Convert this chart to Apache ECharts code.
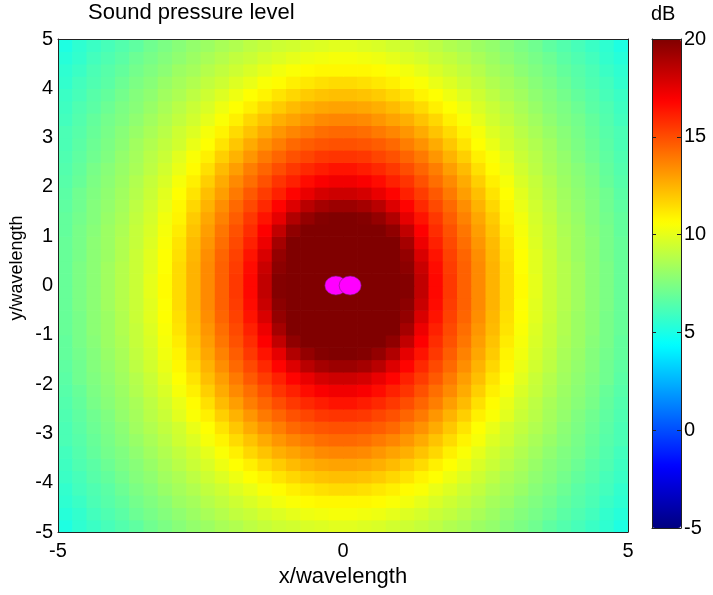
<!DOCTYPE html>
<html>
<head>
<meta charset="utf-8">
<title>Sound pressure level</title>
<script src="https://cdn.jsdelivr.net/npm/echarts@6/dist/echarts.min.js"></script>
<style>
  html, body { margin: 0; padding: 0; background: #fff; }
  #chart { width: 713px; height: 595px; }
</style>
</head>
<body>
<div id="chart"></div>
<script>
// cell centres (wavelengths) for one quadrant, from the axis outwards
const quadCenters = [0.125, 0.375, 0.625, 0.875, 1.125, 1.375, 1.625, 1.875, 2.125, 2.375,
  2.625, 2.875, 3.125, 3.375, 3.625, 3.875, 4.125, 4.375, 4.625, 4.875];
const cellHalf = 0.125;

// SPL (dB) for the quadrant x>0, y>0.
// rows go outwards in |y|, columns outwards in |x|; the field is symmetric
const splQuadrant = [
  [20, 20, 20, 20, 19.9, 18.4, 16.7, 15.5, 14.5, 13.5, 12.5, 11.5, 10.7, 10.0, 9.3, 8.8, 8.3, 7.8, 7.4, 6.9],
  [20, 20, 20, 20, 19.7, 18.2, 16.6, 15.4, 14.5, 13.5, 12.5, 11.5, 10.6, 9.9, 9.3, 8.8, 8.3, 7.8, 7.4, 6.9],
  [20, 20, 20, 20, 19.5, 17.8, 16.4, 15.3, 14.4, 13.4, 12.4, 11.4, 10.6, 9.9, 9.3, 8.7, 8.2, 7.8, 7.3, 6.9],
  [20, 20, 20, 20, 19.1, 17.3, 16.1, 15.1, 14.2, 13.2, 12.3, 11.3, 10.5, 9.8, 9.2, 8.7, 8.2, 7.8, 7.3, 6.9],
  [20, 20, 20, 19.6, 18.4, 16.9, 15.8, 14.9, 14.0, 13.0, 12.1, 11.1, 10.4, 9.7, 9.2, 8.6, 8.2, 7.7, 7.3, 6.8],
  [20, 19.9, 19.5, 18.8, 17.5, 16.4, 15.5, 14.6, 13.7, 12.8, 11.9, 10.9, 10.3, 9.6, 9.1, 8.5, 8.1, 7.6, 7.2, 6.8],
  [19.3, 19.1, 18.6, 17.7, 16.8, 15.9, 15.1, 14.3, 13.4, 12.5, 11.6, 10.8, 10.1, 9.5, 9.0, 8.4, 8.0, 7.6, 7.1, 6.7],
  [18.1, 17.9, 17.4, 16.8, 16.1, 15.4, 14.7, 13.9, 13.0, 12.2, 11.3, 10.6, 9.9, 9.3, 8.8, 8.3, 7.9, 7.5, 7.1, 6.6],
  [17.2, 17.0, 16.6, 16.1, 15.6, 14.9, 14.2, 13.5, 12.7, 11.8, 11.0, 10.4, 9.7, 9.2, 8.7, 8.2, 7.8, 7.4, 6.9, 6.5],
  [16.4, 16.2, 15.9, 15.5, 15.0, 14.4, 13.8, 13.0, 12.3, 11.4, 10.7, 10.1, 9.5, 9.0, 8.5, 8.1, 7.7, 7.3, 6.8, 6.4],
  [15.6, 15.5, 15.2, 14.9, 14.4, 13.9, 13.2, 12.5, 11.8, 11.0, 10.5, 9.9, 9.3, 8.9, 8.4, 8.0, 7.5, 7.1, 6.7, 6.3],
  [14.9, 14.8, 14.6, 14.3, 13.8, 13.3, 12.7, 12.0, 11.3, 10.6, 10.1, 9.5, 9.1, 8.7, 8.3, 7.8, 7.4, 7.0, 6.6, 6.2],
  [14.3, 14.2, 13.9, 13.6, 13.2, 12.7, 12.1, 11.5, 10.9, 10.4, 9.8, 9.4, 8.9, 8.5, 8.1, 7.7, 7.3, 6.9, 6.5, 6.2],
  [13.6, 13.5, 13.2, 12.9, 12.6, 12.1, 11.6, 11.0, 10.5, 10.0, 9.5, 9.1, 8.7, 8.3, 7.9, 7.5, 7.2, 6.8, 6.4, 6.0],
  [12.9, 12.8, 12.6, 12.3, 11.9, 11.5, 11.0, 10.6, 10.2, 9.7, 9.3, 8.9, 8.5, 8.1, 7.7, 7.4, 7.0, 6.6, 6.3, 5.9],
  [12.2, 12.1, 11.9, 11.6, 11.3, 10.9, 10.6, 10.2, 9.8, 9.4, 9.0, 8.6, 8.3, 7.9, 7.6, 7.2, 6.8, 6.5, 6.1, 5.8],
  [11.5, 11.4, 11.2, 11.0, 10.7, 10.5, 10.1, 9.8, 9.4, 9.1, 8.7, 8.4, 8.1, 7.7, 7.4, 7.0, 6.6, 6.3, 6.0, 5.6],
  [10.8, 10.8, 10.7, 10.5, 10.3, 10.0, 9.7, 9.4, 9.1, 8.8, 8.4, 8.2, 7.8, 7.5, 7.2, 6.8, 6.5, 6.2, 5.8, 5.5],
  [10.4, 10.3, 10.2, 10.0, 9.8, 9.6, 9.3, 9.1, 8.8, 8.5, 8.2, 7.9, 7.6, 7.3, 7.0, 6.6, 6.3, 6.0, 5.6, 5.3],
  [9.9, 9.8, 9.7, 9.5, 9.4, 9.2, 9.0, 8.7, 8.5, 8.2, 8.0, 7.7, 7.4, 7.1, 6.7, 6.4, 6.1, 5.8, 5.5, 5.1]
];

// the two point sources
const sourceX = [-0.125, 0.125];
const sourceY = [0, 0];

const jetColors = ['#000080', '#0000ff', '#0080ff', '#00ffff', '#80ff80',
  '#ffff00', '#ff8000', '#ff0000', '#800000'];

// mirror the quadrant into the full field
const n = quadCenters.length;
const centers = quadCenters.slice().reverse().map((c) => -c).concat(quadCenters);
const fold = (k) => (k < n ? n - 1 - k : k - n);
const fieldData = [];
for (let yi = 0; yi < 2 * n; yi++) {
  for (let xi = 0; xi < 2 * n; xi++) {
    fieldData.push([centers[xi], centers[yi], splQuadrant[fold(yi)][fold(xi)]]);
  }
}

// one cell per data item, slightly padded so no seams show
function renderCell(params, api) {
  const x = api.value(0);
  const y = api.value(1);
  const p0 = api.coord([x - cellHalf, y + cellHalf]);
  const p1 = api.coord([x + cellHalf, y - cellHalf]);
  return {
    type: 'rect',
    shape: { x: p0[0], y: p0[1], width: p1[0] - p0[0] + 0.7, height: p1[1] - p0[1] + 0.7 },
    style: { fill: api.visual('color') }
  };
}

const font = "'Liberation Sans', Arial, sans-serif";
const chart = echarts.init(document.getElementById('chart'), null, { renderer: 'canvas' });

const frameLine = { show: true, onZero: false, lineStyle: { color: '#222', width: 1 } };
const frameOnly = {
  axisLine: frameLine, axisTick: { show: false }, axisLabel: { show: false }, splitLine: { show: false }
};

const option = {
  animation: false,
  backgroundColor: '#fff',
  textStyle: { fontFamily: font, color: '#000' },
  title: [
    {
      text: 'Sound pressure level',
      left: 88, top: 2, padding: 0,
      textStyle: { fontSize: 22, fontWeight: 'normal', color: '#000', fontFamily: font }
    },
    {
      text: 'dB',
      left: 651, top: 4, padding: 0,
      textStyle: { fontSize: 20, fontWeight: 'normal', color: '#000', fontFamily: font }
    }
  ],
  grid: [
    { left: 58, top: 39, width: 570, height: 493 },
    { left: 652, top: 39, width: 29, height: 489 }
  ],
  visualMap: {
    type: 'continuous',
    seriesIndex: 0,
    dimension: 2,
    min: -5,
    max: 20,
    calculable: false,
    orient: 'vertical',
    left: 652,
    top: 39,
    padding: 0,
    itemWidth: 29,
    itemHeight: 489,
    text: null,
    inRange: { color: jetColors }
  },
  xAxis: [
    Object.assign({ type: 'value', gridIndex: 0, position: 'top', min: -5, max: 5, z: 10 }, frameOnly),
    {
      type: 'value', gridIndex: 0, position: 'bottom', min: -5, max: 5, interval: 5, z: 10,
      axisLine: frameLine, axisTick: { show: false }, splitLine: { show: false },
      axisLabel: { fontSize: 20, color: '#000', margin: 9, fontFamily: font },
      name: 'x/wavelength', nameLocation: 'middle', nameGap: 32,
      nameTextStyle: { fontSize: 22, color: '#000', fontFamily: font }
    },
    Object.assign({ type: 'value', gridIndex: 1, position: 'bottom', min: 0, max: 1, z: 10 }, frameOnly),
    Object.assign({ type: 'value', gridIndex: 1, position: 'top', min: 0, max: 1, z: 10 }, frameOnly)
  ],
  yAxis: [
    Object.assign({ type: 'value', gridIndex: 0, position: 'right', min: -5, max: 5, z: 10 }, frameOnly),
    {
      type: 'value', gridIndex: 0, position: 'left', min: -5, max: 5, interval: 1, z: 10,
      axisLine: frameLine, axisTick: { show: false }, splitLine: { show: false },
      axisLabel: { fontSize: 20, color: '#000', margin: 5, fontFamily: font }
    },
    {
      type: 'value', gridIndex: 1, position: 'right', min: -5, max: 20, interval: 5, z: 10,
      axisLine: frameLine, splitLine: { show: false },
      axisTick: { show: true, inside: true, length: 4, lineStyle: { color: '#222' } },
      axisLabel: { fontSize: 20, color: '#000', margin: 3, fontFamily: font }
    },
    {
      type: 'value', gridIndex: 1, position: 'left', min: -5, max: 20, interval: 5, z: 10,
      axisLine: frameLine, splitLine: { show: false },
      axisTick: { show: true, inside: true, length: 4, lineStyle: { color: '#222' } },
      axisLabel: { show: false }
    }
  ],
  graphic: [
    {
      type: 'text', x: 17, y: 268, rotation: Math.PI / 2,
      style: {
        text: 'y/wavelength', fontSize: 18, fontFamily: font, fill: '#000',
        align: 'center', verticalAlign: 'middle'
      }
    }
  ],
  series: [
    {
      name: 'SPL',
      type: 'custom',
      xAxisIndex: 1,
      yAxisIndex: 1,
      data: fieldData,
      encode: { x: 0, y: 1 },
      renderItem: renderCell,
      clip: true,
      progressive: 0,
      silent: true
    },
    {
      name: 'sources',
      type: 'scatter',
      xAxisIndex: 1,
      yAxisIndex: 1,
      data: sourceX.map((x, i) => [x, sourceY[i]]),
      symbol: 'circle',
      symbolSize: [22, 19],
      z: 5,
      itemStyle: { color: '#ff00ff', borderColor: '#7a207a', borderWidth: 0.6, opacity: 1 }
    }
  ]
};

chart.setOption(option);
</script>
</body>
</html>
